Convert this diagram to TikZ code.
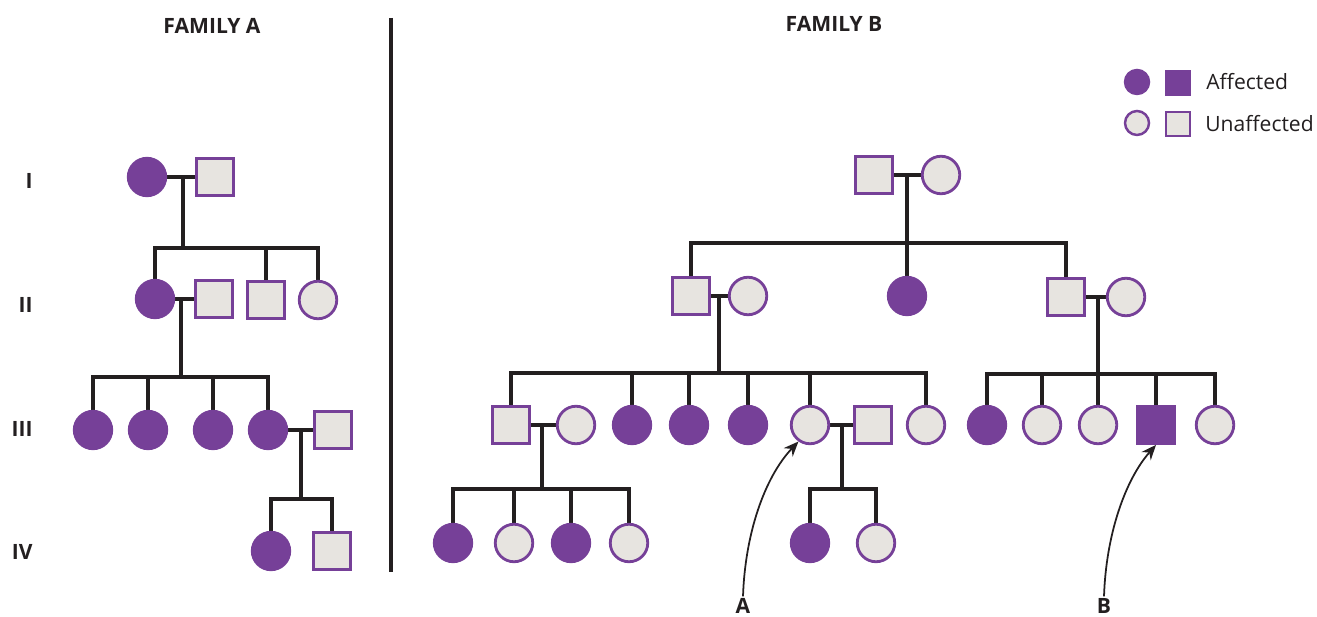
\documentclass[tikz,border=0pt]{standalone}
\usepackage{fontspec}
\setmainfont{Open Sans}
\usetikzlibrary{arrows.meta,backgrounds}

\definecolor{pedpurple}{RGB}{118,64,152}
\definecolor{pedgrey}{RGB}{231,228,224}
\definecolor{pedline}{RGB}{35,31,32}

\begin{document}
\begin{tikzpicture}[x=0.02cm,y=-0.02cm,font=\fontsize{12}{14}\selectfont]
    \tikzset{
        male/.style={rectangle,minimum size=0.74cm,inner sep=0pt,line width=1.6pt},
        female/.style={circle,minimum size=0.75cm,inner sep=0pt,line width=1.6pt},
        aff/.style={draw=pedpurple,fill=pedpurple},
        unaff/.style={draw=pedpurple,fill=pedgrey},
        legmale/.style={rectangle,minimum size=0.48cm,inner sep=0pt,line width=1.4pt},
        legfemale/.style={circle,minimum size=0.48cm,inner sep=0pt,line width=1.4pt},
        kin/.style={draw=pedline,line width=1.8pt},
        genlabel/.style={font=\fontsize{12}{14}\selectfont\bfseries,anchor=east,inner sep=0pt,text=pedline},
        title/.style={font=\fontsize{12}{14}\selectfont\bfseries,text=pedline},
        pointer/.style={-{Stealth[length=8.5pt,width=7pt]},draw=pedline,line width=1pt}
    }
    \useasboundingbox (0,0) rectangle (1317,617);

    % titles and generations
    \node[title] (famA) at (212,26) {FAMILY A};
    \node[title] (famB) at (834,24) {FAMILY B};
    \node[genlabel] (genI) at (33,181) {I};
    \node[genlabel] (genII) at (33,305) {II};
    \node[genlabel] (genIII) at (33,429) {III};
    \node[genlabel] (genIV) at (33,552) {IV};
    \draw[kin] (391,18) -- (391,572);

    % legend
    \node[legfemale,aff] (lgA1) at (1137,82) {};
    \node[legmale,aff] (lgA2) at (1178,83) {};
    \node[legfemale,unaff] (lgU1) at (1137,123) {};
    \node[legmale,unaff] (lgU2) at (1178,124) {};
    \node[anchor=west,inner sep=0pt,text=pedline] (lgAt) at (1206,82) {Affected};
    \node[anchor=west,inner sep=0pt,text=pedline] (lgUt) at (1205,124) {Unaffected};

    % family A
    \node[female,aff] (aI1) at (147,177) {};
    \node[male,unaff] (aI2) at (215,177) {};
    \node[female,aff] (aII1) at (155,299) {};
    \node[male,unaff] (aII2) at (214,299) {};
    \node[male,unaff] (aII3) at (266,300) {};
    \node[female,unaff] (aII4) at (318,300) {};
    \node[female,aff] (aIII1) at (93,430) {};
    \node[female,aff] (aIII2) at (148,430) {};
    \node[female,aff] (aIII3) at (213,430) {};
    \node[female,aff] (aIII4) at (268,430) {};
    \node[male,unaff] (aIII5) at (333,430) {};
    \node[female,aff] (aIV1) at (271,551) {};
    \node[male,unaff] (aIV2) at (332,551) {};

    \coordinate (mA1) at (183,177);
    \coordinate (sA1) at (183,248);
    \coordinate (mA2) at (181,299);
    \coordinate (sA2) at (181,377);
    \coordinate (mA3) at (301,430);
    \coordinate (sA3) at (301,499);

    % family B
    \node[male,unaff] (bI1) at (874,175) {};
    \node[female,unaff] (bI2) at (941,175) {};
    \node[male,unaff] (bII1) at (691,296) {};
    \node[female,unaff] (bII2) at (748,296) {};
    \node[female,aff] (bII3) at (907,296) {};
    \node[male,unaff] (bII4) at (1066,297) {};
    \node[female,unaff] (bII5) at (1126,297) {};

    \node[male,unaff] (bIII1) at (511,425) {};
    \node[female,unaff] (bIII2) at (576,425) {};
    \node[female,aff] (bIII3) at (632,425) {};
    \node[female,aff] (bIII4) at (689,425) {};
    \node[female,aff] (bIII5) at (748,425) {};
    \node[female,unaff] (bIII6) at (810,425) {};
    \node[male,unaff] (bIII7) at (873,425) {};
    \node[female,unaff] (bIII8) at (926,425) {};
    \node[female,aff] (bIII9) at (987,425) {};
    \node[female,unaff] (bIII10) at (1042,425) {};
    \node[female,unaff] (bIII11) at (1098,425) {};
    \node[male,aff] (bIII12) at (1156,425) {};
    \node[female,unaff] (bIII13) at (1215,425) {};

    \node[female,aff] (bIV1) at (453,543) {};
    \node[female,unaff] (bIV2) at (514,543) {};
    \node[female,aff] (bIV3) at (571,543) {};
    \node[female,unaff] (bIV4) at (629,543) {};
    \node[female,aff] (bIV5) at (810,543) {};
    \node[female,unaff] (bIV6) at (876,543) {};

    \coordinate (mB1) at (907,175);
    \coordinate (sB1) at (907,243);
    \coordinate (mB2) at (719,296);
    \coordinate (sB2) at (719,373);
    \coordinate (mB3) at (1098,297);
    \coordinate (sB3) at (1098,374);
    \coordinate (mB4) at (542,425);
    \coordinate (sB4) at (542,489);
    \coordinate (mB5) at (842,425);
    \coordinate (sB5) at (842,489);

    \begin{pgfonlayer}{background}
        % family A lines
        \draw[kin] (aI1.east) -- (aI2.west);
        \draw[kin] (mA1) -- (sA1);
        \draw[kin] (aII1.north) |- (sA1) -| (aII4.north);
        \draw[kin] (aII3.north) -- (aII3.north |- sA1);
        \draw[kin] (aII1.east) -- (aII2.west);
        \draw[kin] (mA2) -- (sA2);
        \draw[kin] (aIII1.north) |- (sA2) -| (aIII4.north);
        \draw[kin] (aIII2.north) -- (aIII2.north |- sA2);
        \draw[kin] (aIII3.north) -- (aIII3.north |- sA2);
        \draw[kin] (aIII4.east) -- (aIII5.west);
        \draw[kin] (mA3) -- (sA3);
        \draw[kin] (aIV1.north) |- (sA3) -| (aIV2.north);

        % family B lines
        \draw[kin] (bI1.east) -- (bI2.west);
        \draw[kin] (mB1) -- (sB1);
        \draw[kin] (bII1.north) |- (sB1) -| (bII4.north);
        \draw[kin] (bII3.north) -- (bII3.north |- sB1);
        \draw[kin] (bII1.east) -- (bII2.west);
        \draw[kin] (bII4.east) -- (bII5.west);
        \draw[kin] (mB2) -- (sB2);
        \draw[kin] (bIII1.north) |- (sB2) -| (bIII8.north);
        \foreach \k in {3,4,5,6}
            \draw[kin] (bIII\k.north) -- (bIII\k.north |- sB2);
        \draw[kin] (mB3) -- (sB3);
        \draw[kin] (bIII9.north) |- (sB3) -| (bIII13.north);
        \foreach \k in {10,11,12}
            \draw[kin] (bIII\k.north) -- (bIII\k.north |- sB3);
        \draw[kin] (bIII1.east) -- (bIII2.west);
        \draw[kin] (bIII6.east) -- (bIII7.west);
        \draw[kin] (mB4) -- (sB4);
        \draw[kin] (bIV1.north) |- (sB4) -| (bIV4.north);
        \draw[kin] (bIV2.north) -- (bIV2.north |- sB4);
        \draw[kin] (bIV3.north) -- (bIV3.north |- sB4);
        \draw[kin] (mB5) -- (sB5);
        \draw[kin] (bIV5.north) |- (sB5) -| (bIV6.north);
    \end{pgfonlayer}

    % probands
    \node[title,inner sep=1pt] (labA) at (743,606) {A};
    \node[title,inner sep=1pt] (labB) at (1104,606) {B};
    \draw[pointer] (labA.north) .. controls (745,535) and (764,478) .. (bIII6.235);
    \draw[pointer] (labB.north) .. controls (1106,535) and (1125,480) .. (bIII12.south);
\end{tikzpicture}
\end{document}
